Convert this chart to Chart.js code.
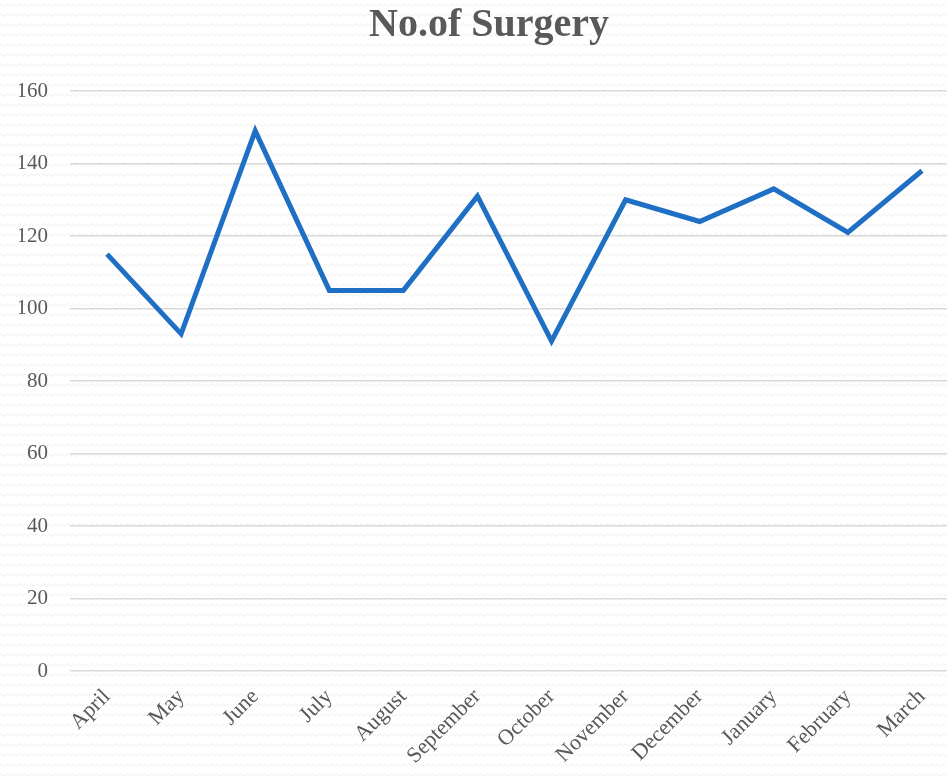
<!DOCTYPE html>
<html>
<head>
<meta charset="utf-8">
<script src="https://cdn.jsdelivr.net/npm/chart.js@4"></script>
<style>
  html, body { margin: 0; padding: 0; overflow: hidden; }
  body {
    width: 947px; height: 783px;
    background-color: #ffffff;
    background-image: url("data:image/svg+xml;utf8,<svg xmlns='http://www.w3.org/2000/svg' width='6' height='10'><path d='M0 5 L1.5 3.5 L4.5 6.5 L6 5' fill='none' stroke='rgb(238,238,238)' stroke-width='1'/></svg>");
  }
  #wrap { position: absolute; left: 0; top: 0; width: 978px; height: 783px; }
</style>
</head>
<body>
<div id="wrap"><canvas id="chart" width="978" height="783"></canvas></div>
<script>
var months = ['April', 'May', 'June', 'July', 'August', 'September', 'October',
  'November', 'December', 'January', 'February', 'March'];
var surgeries = [115, 93, 149, 105, 105, 131, 91, 130, 124, 133, 121, 138];
var yTicks = [0, 20, 40, 60, 80, 100, 120, 140, 160];

var textColor = '#595959';
var serif = "'Liberation Serif', 'DejaVu Serif', serif";

var chart = new Chart(document.getElementById('chart'), {
  type: 'line',
  data: {
    labels: months,
    datasets: [{
      label: 'No.of Surgery',
      data: surgeries,
      borderColor: '#1f70c4',
      borderWidth: 5,
      pointRadius: 0,
      tension: 0,
      fill: false
    }]
  },
  options: {
    responsive: false,
    animation: false,
    // title box spans 19..959 so it centres at 489 like the original
    layout: { padding: { left: 19, right: 19, top: 0, bottom: 0 } },
    plugins: {
      legend: { display: false },
      tooltip: { enabled: false },
      title: {
        display: true,
        text: 'No.of Surgery',
        color: textColor,
        font: { family: serif, size: 40, weight: 'bold', lineHeight: 1.2 },
        padding: { top: 2, bottom: 41 }
      }
    },
    scales: {
      x: {
        offset: true,
        grid: { display: false, drawTicks: false },
        border: { display: false },
        ticks: {
          color: textColor,
          font: { family: serif, size: 22 },
          minRotation: 45,
          maxRotation: 45,
          padding: 13
        },
        afterFit: function(scale) { scale.height = 112; }
      },
      y: {
        min: 0,
        max: 160,
        afterBuildTicks: function(scale) {
          scale.ticks = yTicks.map(function(v) { return { value: v }; });
        },
        grid: { color: '#d9d9d9', lineWidth: 1.5, drawTicks: false },
        border: { display: false },
        ticks: {
          color: textColor,
          font: { family: serif, size: 21 },
          padding: 22
        },
        afterFit: function(scale) { scale.width = 51; }
      }
    }
  }
});
</script>
</body>
</html>
